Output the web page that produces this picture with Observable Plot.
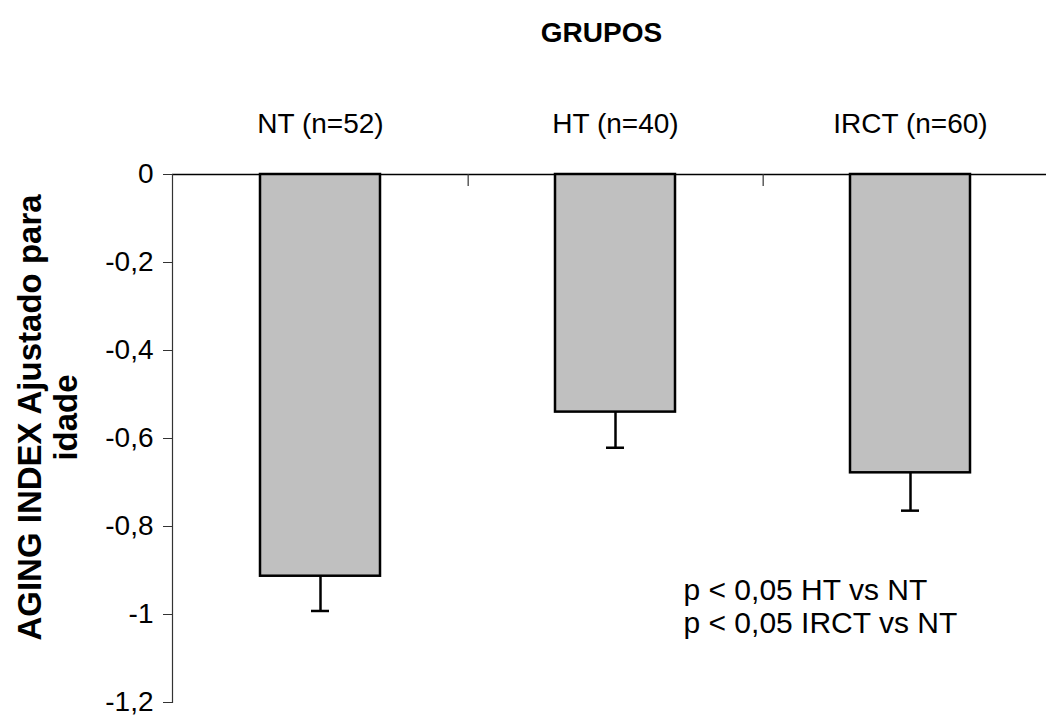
<!DOCTYPE html>
<html><head><meta charset="utf-8">
<script src="https://cdn.jsdelivr.net/npm/d3@7"></script>
<script src="https://cdn.jsdelivr.net/npm/@observablehq/plot@0.6"></script>
<style>body{margin:0;background:#fff}</style>
</head><body><div id="chart"></div>
<script>
const categories = ["NT", "HT", "IRCT"];
const sampleSizes = [52, 40, 60];
const means = [-0.913, -0.540, -0.678];
const errors = [0.079, 0.081, 0.086];
const yTicks = [0, -0.2, -0.4, -0.6, -0.8, -1, -1.2];
const titleText = "GRUPOS";
const yLabel = "AGING INDEX Ajustado para\nidade";
const notes = ["p < 0,05 HT vs NT", "p < 0,05 IRCT vs NT"];

const data = categories.map((c, i) => ({
  group: c,
  mean: means[i],
  low: means[i] - errors[i],
  label: `${c} (n=${sampleSizes[i]})`
}));

const W = 1046, H = 719, mLeft = 172, mTop = 174, mBottom = 17;
const xRange = [172, 1058];
const step = (xRange[1] - xRange[0]) / categories.length;
const font = '"Liberation Sans", Arial, Helvetica, sans-serif';
const fmt = d => String(d).replace(".", ",");

const chart = Plot.plot({
  width: W, height: H,
  marginLeft: mLeft, marginTop: mTop, marginBottom: mBottom, marginRight: 0,
  style: {fontFamily: font, background: "#fff", color: "#000", overflow: "visible"},
  x: {domain: categories, range: xRange, paddingInner: 0.594, paddingOuter: 0.297, axis: null},
  y: {domain: [-1.2, 0], axis: null},
  marks: [
    Plot.ruleY([0], {stroke: "#000", strokeWidth: 1.5}),
    Plot.frame({anchor: "left", stroke: "#333", strokeWidth: 1.2}),
    Plot.axisY(yTicks, {tickSize: 9, tickPadding: 10, fontSize: 28, tickFormat: fmt, stroke: "#333", label: null}),
    Plot.ruleX(categories.slice(0, -1), {x: d => d, dx: step / 2, insetBottom: (H - mTop - mBottom) - 12, stroke: "#333", strokeWidth: 1.2}),
    Plot.barY(data, {x: "group", y: "mean", fill: "#c0c0c0", stroke: "#000", strokeWidth: 2.5}),
    Plot.ruleX(data, {x: "group", y1: "mean", y2: "low", stroke: "#000", strokeWidth: 2.5}),
    Plot.tickY(data, {x: "group", y: "low", stroke: "#000", strokeWidth: 2.5, insetLeft: 51, insetRight: 51}),
    Plot.text(data, {x: "group", text: "label", frameAnchor: "top", dy: -50, fontSize: 28, lineAnchor: "middle", fill: "#000"}),
    Plot.text([titleText], {text: d => d, frameAnchor: "top", dx: -8, dy: -141, fontSize: 28, fontWeight: "bold", lineAnchor: "middle", fill: "#000"}),
    Plot.text([yLabel], {text: d => d, frameAnchor: "left", textAnchor: "middle", rotate: -90, dx: -125, dy: -21, fontSize: 33, fontWeight: "bold", lineAnchor: "middle", lineHeight: 1.1, fill: "#000"}),
    Plot.text([notes.join("\n")], {text: d => d, frameAnchor: "top-left", textAnchor: "start", lineAnchor: "middle", dx: 511, dy: 431, fontSize: 30, lineHeight: 1.1, fill: "#000"})
  ]
});
document.getElementById("chart").appendChild(chart);
</script>
</body></html>
